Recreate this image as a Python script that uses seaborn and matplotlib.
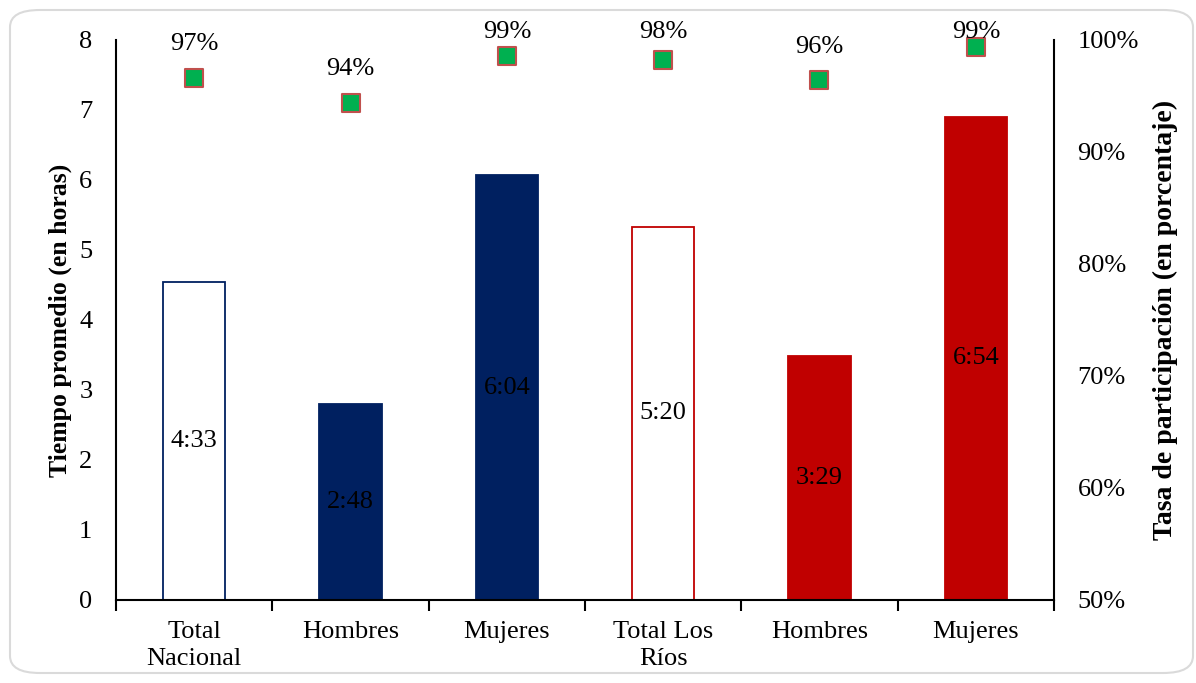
import matplotlib
matplotlib.use("Agg")
import matplotlib.pyplot as plt
from matplotlib.patches import FancyBboxPatch
from matplotlib.ticker import FixedLocator, NullFormatter, FixedFormatter
import seaborn as sns
import pandas as pd

# --- data -------------------------------------------------------------
categorias = ["Total\nNacional", "Hombres", "Mujeres", "Total Los\nRíos", "Hombres", "Mujeres"]
tiempos = ["4:33", "2:48", "6:04", "5:20", "3:29", "6:54"]          # hh:mm
participacion = [96.6, 94.4, 98.6, 98.2, 96.4, 99.4]                  # %
relleno = ["#FFFFFF", "#002060", "#002060", "#FFFFFF", "#C00000", "#C00000"]
borde = ["#002060", "#002060", "#002060", "#C00000", "#C00000", "#C00000"]


def a_horas(hhmm):
    h, m = hhmm.split(":")
    return int(h) + int(m) / 60


horas = [a_horas(t) for t in tiempos]
pos = list(range(len(categorias)))
df = pd.DataFrame({"pos": pos, "horas": horas, "tasa": participacion})

# --- style ------------------------------------------------------------
sns.set_theme(style="white")
plt.rcParams["font.family"] = ["Liberation Serif", "DejaVu Serif"]
plt.rcParams.update({"text.color": "black", "axes.labelcolor": "black",
                     "xtick.color": "black", "ytick.color": "black"})

fig = plt.figure(figsize=(11.96, 6.83), dpi=100)
ax = fig.add_axes([116 / 1196, 1 - 600 / 683, (1054 - 116) / 1196, (600 - 40) / 683])

# rounded card frame
fig.patches.append(FancyBboxPatch((10 / 1196, 10 / 683), 1183 / 1196, 663 / 683,
                                  boxstyle="round,pad=0,rounding_size=0.025",
                                  transform=fig.transFigure, facecolor="none",
                                  edgecolor="#DADADA", linewidth=1.5, zorder=-1))

# --- bars (left axis) -------------------------------------------------
sns.barplot(data=df, x="pos", y="horas", hue="pos", palette=relleno, legend=False,
            width=0.40, ax=ax, saturation=1, errorbar=None)
for patch, fc, ec in zip(ax.patches, relleno, borde):
    patch.set_facecolor(fc)
    patch.set_edgecolor(ec)
    patch.set_linewidth(1.3)

for x, h, t in zip(pos, horas, tiempos):
    ax.text(x, h / 2, t, ha="center", va="center", fontsize=19, color="black")

ax.set_ylim(0, 8)
ax.set_xlim(-0.5, len(categorias) - 0.5)
ax.set_yticks(range(0, 9))
ax.set_ylabel("Tiempo promedio (en horas)", fontsize=18.5, fontweight="bold", labelpad=5)
ax.set_xlabel("")

# category boundaries as outward ticks, labels centred on the bars
ax.xaxis.set_major_locator(FixedLocator([p - 0.5 for p in pos] + [pos[-1] + 0.5]))
ax.xaxis.set_major_formatter(NullFormatter())
ax.xaxis.set_minor_locator(FixedLocator(pos))
ax.xaxis.set_minor_formatter(FixedFormatter(categorias))
ax.tick_params(axis="x", which="major", direction="out", length=8, width=1.5,
               color="black", bottom=True)
ax.tick_params(axis="x", which="minor", length=0, labelsize=19, pad=15)
ax.tick_params(axis="y", length=0, labelsize=19, pad=17)
for lbl in ax.xaxis.get_minorticklabels():
    lbl.set_linespacing(1.3)

for side in ["left", "bottom"]:
    ax.spines[side].set_visible(True)
    ax.spines[side].set_color("black")
    ax.spines[side].set_linewidth(1.5)
ax.spines["top"].set_visible(False)
ax.spines["right"].set_visible(False)

# --- participation rate (right axis) ----------------------------------
ax2 = ax.twinx()
sns.scatterplot(data=df, x="pos", y="tasa", marker="s", s=165, color="#00B050",
                edgecolor="#C0504D", linewidth=1.5, ax=ax2, zorder=5, clip_on=False)
for x, v in zip(pos, participacion):
    ax2.text(x, min(v + 3.0, 100.7), f"{v:.0f}%", ha="center", va="center",
             fontsize=19, color="black", zorder=6)

ax2.set_ylim(50, 100)
ax2.set_yticks(range(50, 101, 10))
ax2.set_yticklabels([f"{t}%" for t in range(50, 101, 10)])
ax2.set_ylabel("Tasa de participación (en porcentaje)", fontsize=20, fontweight="bold",
               labelpad=10)
ax2.tick_params(axis="y", length=0, labelsize=19, pad=17)
ax2.set_xlim(-0.5, len(categorias) - 0.5)
for side in ["left", "top", "bottom"]:
    ax2.spines[side].set_visible(False)
ax2.spines["right"].set_visible(True)
ax2.spines["right"].set_color("black")
ax2.spines["right"].set_linewidth(1.5)
ax2.grid(False)
ax.grid(False)

fig.savefig("out.png", dpi=100, facecolor="white")
